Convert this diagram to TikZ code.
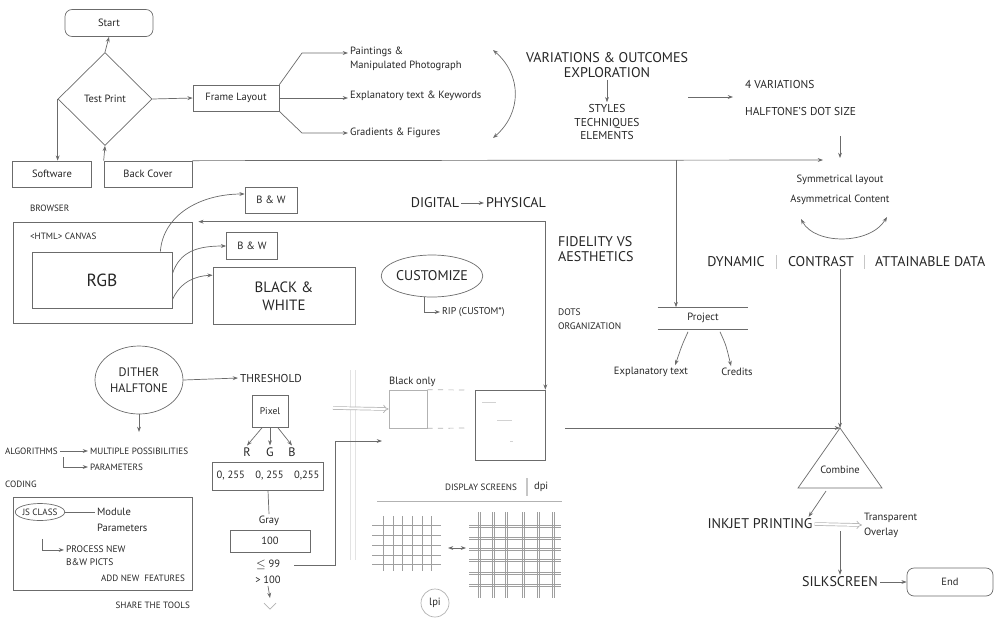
\documentclass[tikz,border=0pt]{standalone}
\usepackage{fontspec}
\setmainfont{PT Sans}
\usetikzlibrary{shapes.geometric,arrows.meta,positioning,calc}
\definecolor{ink}{HTML}{262626}
\definecolor{wire}{HTML}{6B6B6B}

\begin{document}
\begin{tikzpicture}[
    x=0.02cm, y=-0.02cm,
    every node/.style={text=ink, inner sep=1pt},
    ft/.style={font=\fontsize{5.2}{6.5}\selectfont},
    fs/.style={font=\fontsize{6}{7.5}\selectfont},
    fm/.style={font=\fontsize{6.5}{7.7}\selectfont},
    fb/.style={font=\fontsize{8}{8.6}\selectfont},
    box/.style={rectangle, draw=wire, fs, minimum height=0.52cm},
    rbox/.style={box, rounded corners=4pt},
    arr/.style={-{Stealth[length=3pt,width=2.2pt]}, draw=wire},
    darr/.style={{Stealth[length=3pt,width=2.2pt]}-{Stealth[length=3pt,width=2.2pt]}, draw=wire},
    ln/.style={draw=wire},
    dbl/.style={draw=gray!60, double, double distance=1.2pt, -{Implies}},
    mesh/.style={draw=gray!75, line width=0.5pt},
    divider/.style={draw=gray!45, line width=0.6pt}
]
    \useasboundingbox (0,0) rectangle (996,619);

    % start and test print
    \node [rbox, minimum width=1.76cm, minimum height=0.54cm] (start) at (109,23) {Start};
    \node [diamond, draw=wire, fs, minimum width=1.88cm, minimum height=1.86cm, inner sep=0pt] (test) at (105,99) {Test Print};
    \node [box, minimum width=1.72cm] (frame) at (236,98) {Frame Layout};
    \node [box, minimum width=1.58cm] (software) at (52,174) {Software};
    \node [box, minimum width=1.76cm] (back) at (148,174) {Back Cover};

    \draw [arr] (test.north) -- (start.south);
    \draw [arr] (test.east) -- (frame.west);
    \draw [arr] (test.west) -- (test.west |- software.north);
    \draw [arr] (back.north west) -- (test.south);

    % frame layout contents
    \node [anchor=west, align=left, font=\fontsize{6}{8}\selectfont] (paint) at (348,59) {Paintings \&\\Manipulated Photograph};
    \node [fs, anchor=west] (keys) at (348,96) {Explanatory text \& Keywords};
    \node [fs, anchor=west] (grad) at (348,133) {Gradients \& Figures};
    \coordinate (pa) at ($(paint.west)+(0,-6)$);

    \draw [arr] (frame.north east) -- ($(pa)+(-46,0)$) -- (pa);
    \draw [arr] (frame.east) -- (frame.east -| keys.west);
    \draw [arr] (frame.south east) -- ($(grad.west)+(-46,0)$) -- (grad.west);

    \coordinate (loopa) at (493,50);
    \coordinate (loopb) at (493,138);
    \draw [darr] (loopa) .. controls (522,75) and (522,113) .. (loopb);

    % variations
    \node [fb, align=center, font=\fontsize{8}{8.6}\selectfont] (vary) at (607,65) {VARIATIONS \& OUTCOMES\\EXPLORATION};
    \node [fm, align=center] (styles) at (607,122) {STYLES\\TECHNIQUES\\ELEMENTS};
    \draw [arr] (vary.south) -- (styles.north);

    \node [fm, anchor=west] (fourvar) at (743,84) {4 VARIATIONS};
    \node [fm, anchor=west] (dotsize) at (743,111) {HALFTONE'S DOT SIZE};
    \coordinate (va) at (688,97);
    \coordinate (vb) at (733,97);
    \draw [arr] (va) -- (vb);
    \coordinate (ha) at (840,136);
    \coordinate (hb) at (840,158);
    \draw [arr] (ha) -- (hb);

    % long rule
    \coordinate (symin) at (823,160);
    \coordinate (drop) at (676,160);
    \draw [arr] (back.north east) -- (symin);

    \node [fs] (sym) at (840,180) {Symmetrical layout};
    \node [fs] (asym) at (840,200) {Asymmetrical Content};
    \coordinate (sa) at (801,219);
    \coordinate (sb) at (887,217);
    \draw [darr] (sa) .. controls (815,245) and (870,245) .. (sb);

    \node [fb] (dynamic) at (736,262) {DYNAMIC};
    \node [fb] (contrast) at (821,262) {CONTRAST};
    \node [fb, anchor=west] (attain) at (873,262) {ATTAINABLE DATA};
    \draw [divider] ($(dynamic.north east)!.5!(contrast.north west)$) -- ($(dynamic.south east)!.5!(contrast.south west)$);
    \draw [divider] ($(contrast.north east)!.5!(attain.north west)$) -- ($(contrast.south east)!.5!(attain.south west)$);

    % project
    \node [fs, minimum width=1.8cm, minimum height=0.42cm] (project) at (703,318) {Project};
    \draw [ln] (project.north west) -- (project.north east);
    \draw [ln] (project.south west) -- (project.south east);
    \draw [arr] (drop) -- (drop |- project.north);
    \node [fs] (expl) at (651,372) {Explanatory text};
    \node [fs] (credits) at (737,372) {Credits};
    \draw [arr] ($(project.south)+(-15,3)$) .. controls (682,345) .. ($(expl.north east)+(-15,0)$);
    \draw [arr] ($(project.south)+(17,3)$) .. controls (726,345) .. ($(credits.north)+(-6,0)$);

    % browser
    \node [ft, anchor=west] (browser) at (28,208) {BROWSER};
    \node [draw=wire, minimum width=3.58cm, minimum height=2.02cm, inner sep=0pt] (browserbox) at (102.5,272.5) {};
    \node [ft, anchor=west] (canvas) at (28,236) {<HTML> CANVAS};
    \node [box, font=\fontsize{10}{12}\selectfont, minimum width=2.8cm, minimum height=1.12cm] (rgb) at (102,280) {RGB};
    \node [box, minimum width=1.04cm] (bwa) at (271,200) {B \& W};
    \node [box, minimum width=1.02cm, minimum height=0.54cm] (bwb) at (252,246) {B \& W};
    \node [box, align=center, font=\fontsize{8.5}{10}\selectfont, minimum width=2.84cm, minimum height=1.14cm] (bwbig) at (284,296) {BLACK \&\\WHITE};

    \draw [arr] ($(rgb.north east)+(-12,0)$) .. controls (163,215) and (200,194) .. ($(bwa.west)+(0,-6)$);
    \draw [arr] ($(rgb.east)+(0,-6)$) .. controls (180,250) and (200,246) .. (bwb.west);
    \draw [arr] ($(rgb.east)+(0,20)$) .. controls (180,282) and (195,276) .. ($(bwbig.north west)+(0,8)$);

    \node [fb] (digital) at (435,203) {DIGITAL};
    \node [fb] (physical) at (516,203) {PHYSICAL};
    \draw [arr] (digital) -- (physical);

    \node [ellipse, draw=wire, fb, minimum width=2.0cm, minimum height=0.84cm, inner sep=0pt] (custom) at (432,276) {CUSTOMIZE};
    \node [font=\fontsize{5.6}{7}\selectfont, anchor=west] (rip) at (440,312) {RIP (CUSTOM*)};
    \draw [arr] (custom.250) |- (rip.west);

    \node [anchor=west, align=left, font=\fontsize{8}{9}\selectfont] (fidelity) at (556,249) {FIDELITY VS\\AESTHETICS};
    \node [anchor=west, align=left, font=\fontsize{5.4}{8}\selectfont] (dots) at (556,319) {DOTS\\ORGANIZATION};

    % dither halftone
    \node [ellipse, draw=wire, align=center, font=\fontsize{7}{9}\selectfont, minimum width=1.76cm, minimum height=1.36cm, inner sep=0pt] (dither) at (139,380) {DITHER\\HALFTONE};
    \node [fm] (threshold) at (271,378) {THRESHOLD};
    \draw [arr] (dither.east) -- (threshold.west);
    \coordinate (ditherout) at (139,432);
    \draw [arr] (dither.south) -- (ditherout);

    \node [ft, anchor=west] (algo) at (3,451) {ALGORITHMS};
    \node [ft, anchor=west] (multi) at (88,451) {MULTIPLE POSSIBILITIES};
    \node [ft, anchor=west] (params) at (88,467) {PARAMETERS};
    \draw [arr] (algo.east) -- (multi.west);
    \draw [arr] ($(algo.east)+(3,6)$) |- (params.west);

    % pixel values
    \node [box, font=\fontsize{5.5}{7}\selectfont, minimum width=0.72cm, minimum height=0.64cm] (pixel) at (270,411) {Pixel};
    \node [font=\fontsize{7}{8}\selectfont] (r) at (247,452) {R};
    \node [font=\fontsize{7}{8}\selectfont] (g) at (270,452) {G};
    \node [font=\fontsize{7}{8}\selectfont] (b) at (292,452) {B};
    \draw [arr] (pixel.245) -- (r.north);
    \draw [arr] (pixel.south) -- (g.north);
    \draw [arr] (pixel.295) -- (b.north);
    \node [box, minimum width=2.22cm, minimum height=0.56cm] (range) at (268,476) {0, 255\quad 0, 255\quad 0,255};
    \node [fs] (gray) at (269,521) {Gray};
    \draw [ln] (range.south) -- (gray.north);
    \node [box, minimum width=1.6cm, minimum height=0.44cm] (hundred) at (270,541) {100};
    \node [fs] (le) at (268,565) {$\leq$ 99};
    \node [fs] (gt) at (268,580) {> 100};
    \coordinate (vmark) at (270,598);
    \draw [arr] (gt.south) -- (vmark);
    \draw [draw=gray!60] ($(vmark)+(-6,5)$) -- ($(vmark)+(0,11)$) -- ($(vmark)+(6,5)$);

    % black only
    \draw [draw=gray!22, double, double distance=2pt, line width=0.7pt] (353,370) -- (353,560);
    \node [fs, anchor=west] (bolbl) at (387,382) {Black only};
    \node [draw=gray!60, minimum width=0.76cm, minimum height=0.76cm, inner sep=0pt] (bobox) at (408,409) {};
    \node [draw=wire, minimum width=1.4cm, minimum height=1.4cm, inner sep=0pt] (bigbox) at (510,425) {};
    \coordinate (hin) at (333,408);
    \draw [dbl] (hin) -- (bobox.west);
    \coordinate (da) at (465,390);
    \coordinate (db) at (465,428);
    \draw [draw=gray!60, dashed] (bobox.north east) -- (da);
    \draw [draw=gray!60, dashed] (bobox.south east) -- (db);
    \draw [draw=gray!35] (482,402) -- (496,402);
    \draw [draw=gray!35] (497,420) -- (512,420);
    \draw [draw=gray!35] (510,441) -- (513,441);
    \coordinate (boin) at (382,441);
    \draw [arr] ($(le.east)+(12,0)$) -| ($(boin)+(-47,0)$) -- (boin);
    \draw [darr] ($(browserbox.north east)+(6,0)$) -| (bigbox.north east);

    % display screens
    \node [ft] (display) at (481,487) {DISPLAY SCREENS};
    \node [fs, anchor=west] (dpi) at (532,487) {dpi};
    \draw [divider] (527,478) -- (527,496);
    \draw [draw=gray!60] (377,501) -- (562,501);
    \foreach \gx in {383,393,402,412,422,431}
        \draw [mesh] (\gx,516) -- (\gx,571);
    \foreach \gy in {525,535,545,555,564}
        \draw [mesh] (372,\gy) -- (441,\gy);
    \foreach \gx in {478,492,505,522,537,552} {
        \draw [mesh] (\gx,512) -- (\gx,598);
        \draw [mesh] (\gx+2.5,512) -- (\gx+2.5,598);
    }
    \foreach \gy in {525,537,548,559,572,584} {
        \draw [mesh] (469,\gy) -- (561,\gy);
        \draw [mesh] (469,\gy+2.5) -- (561,\gy+2.5);
    }
    \coordinate (ga) at (448,548);
    \coordinate (gb) at (466,548);
    \draw [darr] (ga) -- (gb);
    \node [circle, draw=gray!60, fs, minimum size=0.56cm, inner sep=0pt] (lpi) at (435,603) {lpi};

    % coding
    \node [ft, anchor=west] (coding) at (3,484) {CODING};
    \node [draw=wire, minimum width=3.58cm, minimum height=1.86cm, inner sep=0pt] (codebox) at (102.5,544) {};
    \node [ellipse, draw=wire, ft, minimum width=0.96cm, minimum height=0.34cm, inner sep=0pt] (js) at (40,512) {JS CLASS};
    \node [fs, anchor=west] (module) at (95,512) {Module};
    \node [fs, anchor=west] (params2) at (95,528) {Parameters};
    \draw [ln] (js.east) -- (module.west);
    \node [anchor=west, align=left, font=\fontsize{5.4}{7.4}\selectfont] (process) at (64,556) {PROCESS NEW\\B\&W PICTS};
    \draw [arr] ($(js.south)+(2,18)$) |- ($(process.north west)+(0,6)$);
    \node [ft, anchor=east] (addnew) at (187,578) {ADD NEW\ \ FEATURES};
    \node [ft, anchor=east] (share) at (192,605) {SHARE THE TOOLS};

    % combine and printing
    \coordinate (apex) at (840,428);
    \coordinate (base) at (840,488);
    \draw [ln] (apex) -- ($(base)+(-42,0)$) -- ($(base)+(42,0)$) -- cycle;
    \node [fs] (combine) at (840,470) {Combine};
    \draw [arr] (apex |- contrast.south) -- (apex);
    \draw [arr] ($(bigbox.east |- apex)+(20,0)$) -- (apex);

    \node [fb] (inkjet) at (760,524) {INKJET PRINTING};
    \draw [arr] ($(base)+(-14,3)$) -- ($(inkjet.north east)+(-6,0)$);
    \node [anchor=west, align=left, font=\fontsize{6}{8.5}\selectfont] (transp) at (862,525) {Transparent\\Overlay};
    \draw [dbl] (inkjet.east) -- (transp.west);
    \node [fb] (silk) at (840,582) {SILKSCREEN};
    \draw [arr] (silk.north |- inkjet.south) -- (silk.north);
    \node [rbox, minimum width=1.72cm, minimum height=0.56cm] (finish) at (950,582) {End};
    \draw [arr] (silk.east) -- (finish.west);
\end{tikzpicture}
\end{document}
